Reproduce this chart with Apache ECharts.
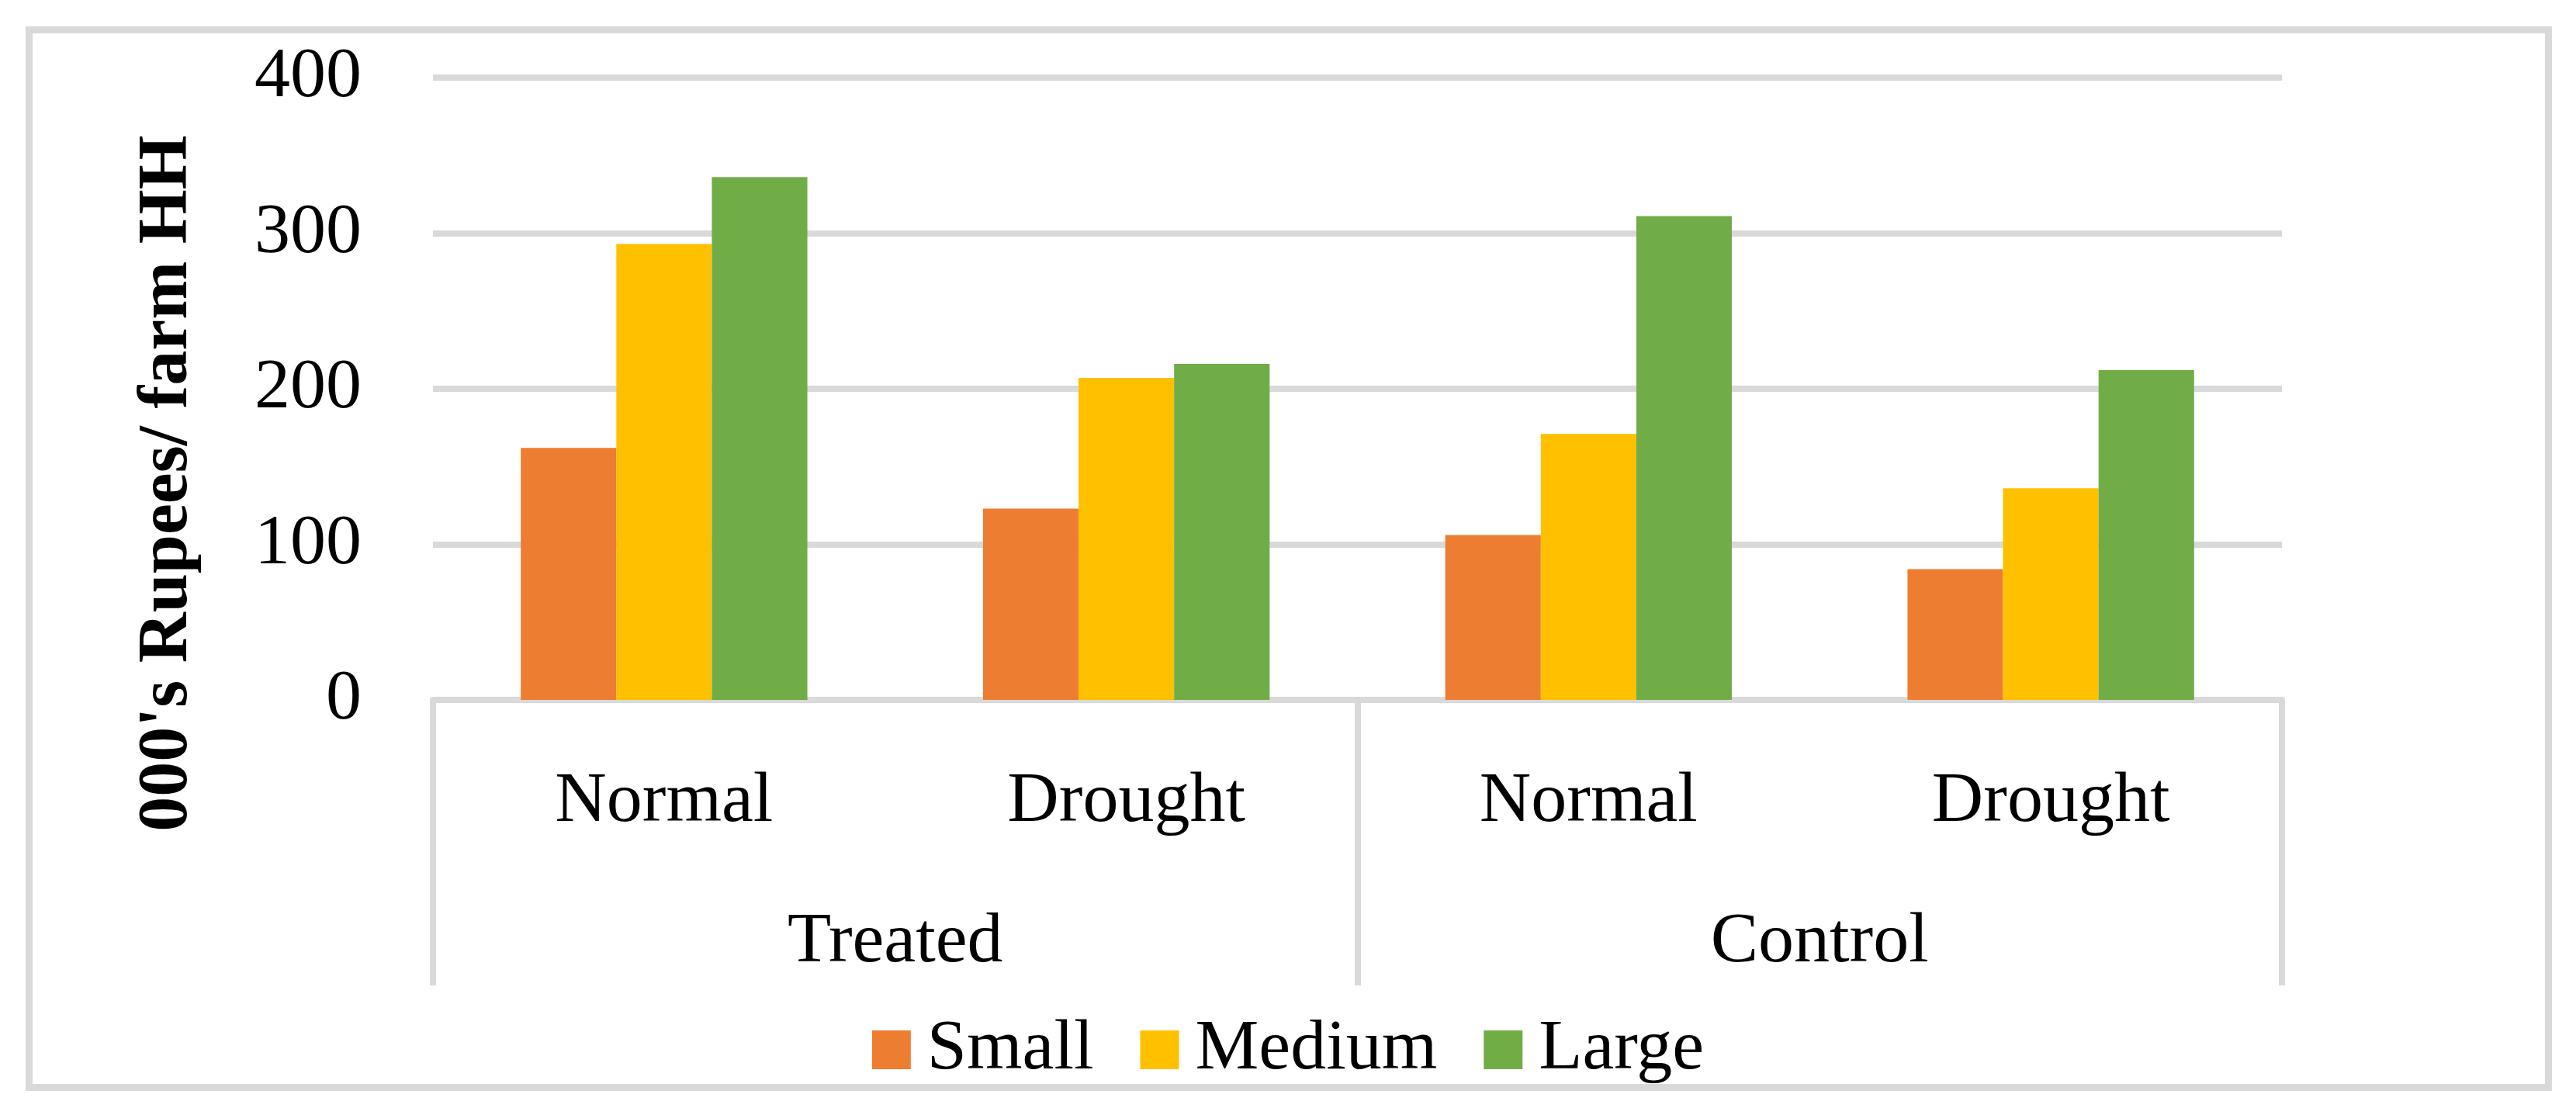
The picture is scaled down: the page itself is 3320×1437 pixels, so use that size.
<!DOCTYPE html>
<html>
<head>
<meta charset="utf-8">
<script src="https://cdn.jsdelivr.net/npm/echarts@6/dist/echarts.min.js"></script>
<style>
  html, body { margin: 0; padding: 0; background: #fff; }
  #main { width: 3320px; height: 1437px; }
</style>
</head>
<body>
<div id="main"></div>
<script>
/* data */
var conditions = ['Normal', 'Drought', 'Normal', 'Drought'];
var groups = ['Treated', 'Control'];
var yTicks = [0, 100, 200, 300, 400];
var small = [162, 123, 106, 84];
var medium = [293, 207, 171, 136];
var large = [336, 216, 311, 212];

var FONT = '"Liberation Serif", "DejaVu Serif", serif';
var GREY = '#d9d9d9';

var myChart = echarts.init(document.getElementById('main'));

var option = {
    backgroundColor: '#fff',
    textStyle: { fontFamily: FONT },
    color: ['#ED7D31', '#FFC000', '#70AD47'],
    grid: { left: 558, right: 379, top: 100, bottom: 535 },
    // outer frame
    graphic: [{
        type: 'rect',
        shape: { x: 37.5, y: 38.5, width: 3247, height: 1363 },
        style: { fill: 'none', stroke: GREY, lineWidth: 9 },
        silent: true
    }],
    legend: {
        data: ['Small', 'Medium', 'Large'],
        left: 'center',
        top: 1302,
        icon: 'rect',
        itemWidth: 50,
        itemHeight: 50,
        itemGap: 60,
        textStyle: { fontFamily: FONT, fontSize: 92, color: '#000', padding: [0, 0, 0, 16] }
    },
    xAxis: [{
        type: 'category',
        data: conditions,
        position: 'bottom',
        offset: 0,
        axisLine: { show: true, lineStyle: { color: GREY, width: 8 } },
        axisTick: { show: false },
        axisLabel: { fontFamily: FONT, fontSize: 92, color: '#000', margin: 86, interval: 0 }
    }, {
        // second level: group labels, ticks make the box dividers
        type: 'category',
        data: groups,
        position: 'bottom',
        offset: 0,
        axisLine: { show: false },
        axisTick: { show: true, length: 368, interval: 0, lineStyle: { color: GREY, width: 8 } },
        axisLabel: { fontFamily: FONT, fontSize: 92, color: '#000', margin: 267, interval: 0 }
    }],
    yAxis: {
        type: 'value',
        min: yTicks[0],
        max: yTicks[yTicks.length - 1],
        interval: yTicks[1] - yTicks[0],
        name: "000's Rupees/ farm HH",
        nameLocation: 'middle',
        nameGap: 296,
        nameTextStyle: { fontFamily: FONT, fontSize: 90, fontWeight: 'bold', color: '#000', padding: [0, 244, 0, 0] },
        axisLine: { show: false },
        axisTick: { show: false },
        axisLabel: { fontFamily: FONT, fontSize: 92, color: '#000', margin: 92 },
        splitLine: { show: true, lineStyle: { color: GREY, width: 8 } }
    },
    series: [
        { name: 'Small', type: 'bar', xAxisIndex: 0, data: small, barGap: '0%', barCategoryGap: '38%' },
        { name: 'Medium', type: 'bar', xAxisIndex: 0, data: medium, barGap: '0%', barCategoryGap: '38%' },
        { name: 'Large', type: 'bar', xAxisIndex: 0, data: large, barGap: '0%', barCategoryGap: '38%' }
    ]
};
myChart.setOption(option);
</script>
</body>
</html>
